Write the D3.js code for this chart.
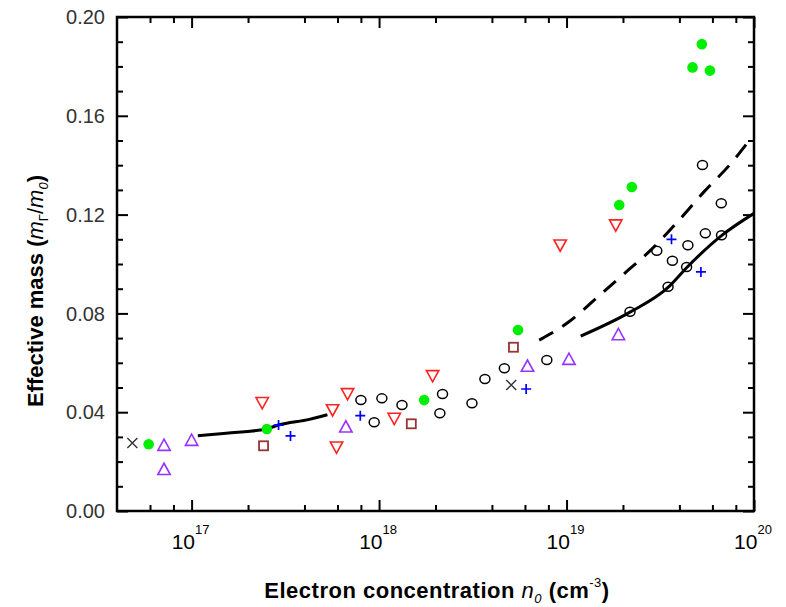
<!DOCTYPE html>
<html><head><meta charset="utf-8">
<script src="https://cdn.jsdelivr.net/npm/d3@7"></script>
<style>body{margin:0;background:#fff;} svg{display:block;}</style>
</head><body>
<svg id="chart" width="786" height="607"></svg>
<script>
// ---- data ----
const crossX = [4.83e16, 5.07e18];
const crossY = [0.0275, 0.051];
const greenX = [5.9e16, 2.52e17, 1.74e18, 5.51e18, 1.91e19, 2.23e19, 4.70e19, 5.27e19, 5.82e19];
const greenY = [0.027, 0.0332, 0.0449, 0.0733, 0.1239, 0.1312, 0.1796, 0.189, 0.1783];
const upTriX = [7.13e16, 7.13e16, 1.0e17, 6.65e17, 6.19e18, 1.03e19, 1.89e19];
const upTriY = [0.0267, 0.0169, 0.0287, 0.0341, 0.0587, 0.0615, 0.0715];
const downTriX = [2.38e17, 5.65e17, 6.79e17, 5.93e17, 1.205e18, 1.93e18, 9.25e18, 1.83e19];
const downTriY = [0.0438, 0.0409, 0.0474, 0.0258, 0.0374, 0.0547, 0.1076, 0.1157];
const squareX = [2.42e17, 1.486e18, 5.21e18];
const squareY = [0.0264, 0.0353, 0.0663];
const plusX = [2.91e17, 3.37e17, 7.94e17, 6.09e18, 3.63e19, 5.21e19];
const plusY = [0.0348, 0.0304, 0.0386, 0.0494, 0.110, 0.0968];
const circleX = [8.0e17, 1.035e18, 1.325e18, 9.42e17, 2.18e18, 2.11e18, 3.13e18, 3.67e18, 4.66e18, 7.85e18,
                 2.18e19, 3.48e19, 4.37e19, 3.67e19, 3.03e19, 4.44e19, 5.5e19, 6.71e19, 6.69e19, 5.31e19];
const circleY = [0.0449, 0.0456, 0.0429, 0.0359, 0.0474, 0.0396, 0.0436, 0.0534, 0.0578, 0.0611,
                 0.0807, 0.0908, 0.0988, 0.1013, 0.1054, 0.1076, 0.1124, 0.1116, 0.1246, 0.1401];
const lowFitX = [1.08e17, 1.53e17, 2.5e17, 2.9e17, 4.25e17, 5.3e17];
const lowFitY = [0.0305, 0.0315, 0.0332, 0.0348, 0.0371, 0.039];
const solidFitX = [1.19e19, 2.18e19, 3.48e19, 4.37e19, 6.71e19, 1e20];
const solidFitY = [0.0708, 0.0805, 0.0905, 0.0985, 0.1115, 0.1205];
const dashFitX = [7.15e18, 1.03e19, 1.44e19, 1.99e19, 2.82e19, 3.91e19, 5.42e19, 7.67e19, 9.2e19];
const dashFitY = [0.0692, 0.0766, 0.0861, 0.0955, 0.1057, 0.1171, 0.1293, 0.1414, 0.149];
const xMajor = [1e17, 1e18, 1e19, 1e20];
const xMajorExp = ["17", "18", "19", "20"];
const xMinor = [6e16, 8e16, 2e17, 4e17, 6e17, 8e17, 2e18, 4e18, 6e18, 8e18, 2e19, 4e19, 6e19, 8e19];
const yMajor = [0, 0.04, 0.08, 0.12, 0.16, 0.20];
const yMinor = [0.01, 0.02, 0.03, 0.05, 0.06, 0.07, 0.09, 0.10, 0.11, 0.13, 0.14, 0.15, 0.17, 0.18, 0.19];

// ---- layout ----
const L = 117, R = 754, T = 17, B = 511;
const svg = d3.select("#chart");
const x = d3.scaleLog().domain([4e16, 1e20]).range([L, R]);
const y = d3.scaleLinear().domain([0, 0.2]).range([B, T]);
const zip = (a, b) => a.map((v, i) => [v, b[i]]);

function axisStyle(g) {
  g.select(".domain").remove();
  g.selectAll(".tick line").attr("stroke", "#000").attr("stroke-width", 2);
  g.selectAll(".tick text").remove();
}
// bottom / top
svg.append("g").attr("transform", `translate(0,${B})`).call(d3.axisBottom(x).tickValues(xMajor).tickSize(-11).tickFormat("")).call(axisStyle);
svg.append("g").attr("transform", `translate(0,${B})`).call(d3.axisBottom(x).tickValues(xMinor).tickSize(-6).tickFormat("")).call(axisStyle);
svg.append("g").attr("transform", `translate(0,${T})`).call(d3.axisTop(x).tickValues(xMajor).tickSize(-11).tickFormat("")).call(axisStyle);
svg.append("g").attr("transform", `translate(0,${T})`).call(d3.axisTop(x).tickValues(xMinor).tickSize(-6).tickFormat("")).call(axisStyle);
// left / right
svg.append("g").attr("transform", `translate(${L},0)`).call(d3.axisLeft(y).tickValues(yMajor).tickSize(-11).tickFormat("")).call(axisStyle);
svg.append("g").attr("transform", `translate(${L},0)`).call(d3.axisLeft(y).tickValues(yMinor).tickSize(-6).tickFormat("")).call(axisStyle);
svg.append("g").attr("transform", `translate(${R},0)`).call(d3.axisRight(y).tickValues(yMajor).tickSize(-11).tickFormat("")).call(axisStyle);
svg.append("g").attr("transform", `translate(${R},0)`).call(d3.axisRight(y).tickValues(yMinor).tickSize(-6).tickFormat("")).call(axisStyle);

// frame
svg.append("rect").attr("x", L).attr("y", T).attr("width", R - L).attr("height", B - T)
  .attr("fill", "none").attr("stroke", "#000").attr("stroke-width", 2.5);

// y tick labels
svg.append("g").selectAll("text").data(yMajor).join("text")
  .attr("x", L - 12).attr("y", d => y(d)).attr("dy", "0.36em")
  .attr("text-anchor", "end").attr("font-family", "Liberation Sans, Arial, sans-serif")
  .attr("font-size", 20).attr("fill", "#333").text(d => d.toFixed(2));

// x tick labels
const xl = svg.append("g").selectAll("text").data(xMajor).join("text")
  .attr("x", d => x(d) - 1).attr("y", 549).attr("text-anchor", "middle")
  .attr("font-family", "Liberation Sans, Arial, sans-serif").attr("font-size", 21).attr("fill", "#000");
xl.append("tspan").text("10");
xl.append("tspan").attr("font-size", 13).attr("dy", -15).text((d, i) => xMajorExp[i]);

// axis titles
const xt = svg.append("text").attr("x", 437).attr("y", 598).attr("text-anchor", "middle")
  .attr("font-family", "Liberation Sans, Arial, sans-serif").attr("font-size", 22).attr("font-weight", "bold")
  .attr("letter-spacing", 0.5);
xt.append("tspan").text("Electron concentration ");
xt.append("tspan").attr("font-style", "italic").attr("font-weight", "normal").text("n");
xt.append("tspan").attr("font-size", 13).attr("font-style", "italic").attr("font-weight", "normal").attr("dy", 5).text("0");
xt.append("tspan").attr("dy", -5).text(" (cm");
xt.append("tspan").attr("font-size", 13).attr("font-weight", "normal").attr("dy", -11).text("-3");
xt.append("tspan").attr("dy", 11).text(")");

const yt = svg.append("text").attr("transform", `translate(43,${(T + B) / 2 + 27}) rotate(-90)`).attr("text-anchor", "middle")
  .attr("font-family", "Liberation Sans, Arial, sans-serif").attr("font-size", 22).attr("font-weight", "bold");
yt.append("tspan").text("Effective mass (");
yt.append("tspan").attr("font-style", "italic").attr("font-weight", "normal").text("m");
yt.append("tspan").attr("font-size", 13).attr("font-weight", "normal").attr("dy", 5).text("Γ");
yt.append("tspan").attr("dy", -5).attr("font-weight", "normal").text("/");
yt.append("tspan").attr("font-style", "italic").attr("font-weight", "normal").text("m");
yt.append("tspan").attr("font-size", 13).attr("font-style", "italic").attr("font-weight", "normal").attr("dy", 5).text("0");
yt.append("tspan").attr("dy", -5).text(")");

// lines
const line = d3.line().x(d => x(d[0])).y(d => y(d[1])).curve(d3.curveMonotoneX);
svg.append("path").datum(zip(lowFitX, lowFitY)).attr("d", line).attr("fill", "none").attr("stroke", "#000").attr("stroke-width", 3);
svg.append("path").datum(zip(solidFitX, solidFitY)).attr("d", line).attr("fill", "none").attr("stroke", "#000").attr("stroke-width", 3);
svg.append("path").datum(zip(dashFitX, dashFitY)).attr("d", line).attr("fill", "none").attr("stroke", "#000").attr("stroke-width", 3).attr("stroke-dasharray", "16,11");

// markers
const m = svg.append("g");
m.selectAll(".circ").data(zip(circleX, circleY)).join("ellipse")
  .attr("cx", d => x(d[0])).attr("cy", d => y(d[1])).attr("rx", 5).attr("ry", 4.5)
  .attr("fill", "none").attr("stroke", "#000").attr("stroke-width", 1.5);
m.selectAll(".grn").data(zip(greenX, greenY)).join("circle")
  .attr("cx", d => x(d[0])).attr("cy", d => y(d[1])).attr("r", 5.3).attr("fill", "#00ee00");
m.selectAll(".up").data(zip(upTriX, upTriY)).join("path")
  .attr("d", d => { const cx = x(d[0]), cy = y(d[1]); return `M${cx - 6.2},${cy + 5.3}L${cx + 6.2},${cy + 5.3}L${cx},${cy - 6}Z`; })
  .attr("fill", "none").attr("stroke", "#9933ff").attr("stroke-width", 1.6);
m.selectAll(".dn").data(zip(downTriX, downTriY)).join("path")
  .attr("d", d => { const cx = x(d[0]), cy = y(d[1]); return `M${cx - 6.2},${cy - 5.3}L${cx + 6.2},${cy - 5.3}L${cx},${cy + 6}Z`; })
  .attr("fill", "none").attr("stroke", "#ff2222").attr("stroke-width", 1.6);
m.selectAll(".sq").data(zip(squareX, squareY)).join("rect")
  .attr("x", d => x(d[0]) - 4.5).attr("y", d => y(d[1]) - 4.5).attr("width", 9).attr("height", 9)
  .attr("fill", "none").attr("stroke", "#993333").attr("stroke-width", 1.8);
m.selectAll(".pl").data(zip(plusX, plusY)).join("path")
  .attr("d", d => { const cx = x(d[0]), cy = y(d[1]); return `M${cx - 5},${cy}H${cx + 5}M${cx},${cy - 5}V${cy + 5}`; })
  .attr("stroke", "#0000ff").attr("stroke-width", 1.7);
m.selectAll(".cr").data(zip(crossX, crossY)).join("path")
  .attr("d", d => { const cx = x(d[0]), cy = y(d[1]); return `M${cx - 5},${cy - 5}L${cx + 5},${cy + 5}M${cx + 5},${cy - 5}L${cx - 5},${cy + 5}`; })
  .attr("stroke", "#333").attr("stroke-width", 1.4);
</script>
</body></html>
